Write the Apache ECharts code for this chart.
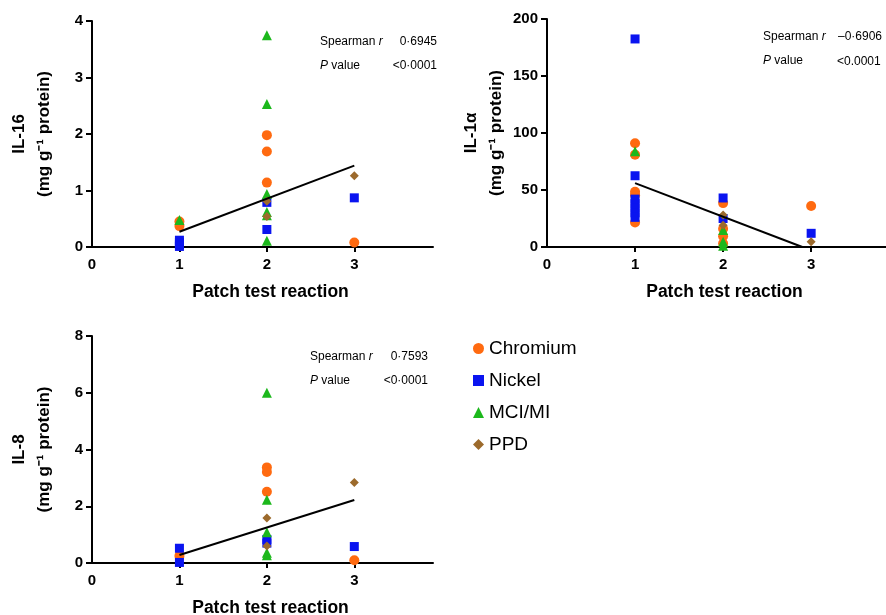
<!DOCTYPE html>
<html>
<head>
<meta charset="utf-8">
<script src="https://cdn.jsdelivr.net/npm/echarts@6/dist/echarts.min.js"></script>
<style>
  html, body { margin: 0; padding: 0; background: #fff; }
  #chart { width: 886px; height: 615px; }
</style>
</head>
<body>
<div id="chart"></div>
<script>
// points are [patch test reaction, concentration]
const il16Chromium = [[1, 0.45], [1, 0.37], [2, 1.98], [2, 1.69], [2, 1.14], [3, 0.08]];
const il16Nickel = [[1, 0.12], [1, 0.08], [1, 0.04], [1, 0.01], [2, 0.79], [2, 0.31], [3, 0.87]];
const il16Mci = [[1, 0.48], [2, 3.75], [2, 2.53], [2, 0.94], [2, 0.62], [2, 0.56], [2, 0.11]];
const il16Ppd = [[2, 0.81], [2, 0.54], [3, 1.26]];
const il16Fit = [[1, 0.27], [3, 1.44]];

const il1aChromium = [[1, 91], [1, 81], [1, 48.5], [1, 45.5], [1, 21.5], [2, 38.5], [2, 16], [2, 9.5], [2, 3], [3, 36]];
const il1aNickel = [[1, 182.5], [1, 62.5], [1, 42], [1, 38], [1, 34], [1, 30], [1, 26], [2, 43], [2, 25], [3, 12]];
const il1aMci = [[1, 84], [2, 15], [2, 4.5], [2, 1]];
const il1aPpd = [[2, 28], [2, 19], [3, 4.5]];
const il1aFit = [[1, 56], [2.9, 0]];

const il8Chromium = [[1, 0.25], [2, 3.37], [2, 3.21], [2, 2.51], [3, 0.1]];
const il8Nickel = [[1, 0.52], [1, 0.02], [2, 0.83], [2, 0.7], [3, 0.58]];
const il8Mci = [[2, 6.0], [2, 2.23], [2, 1.08], [2, 0.36], [2, 0.27]];
const il8Ppd = [[2, 1.59], [2, 0.6], [3, 2.84]];
const il8Fit = [[1, 0.28], [3, 2.22]];

const groups = ['Chromium', 'Nickel', 'MCI/MI', 'PPD'];
const xTicks = [0, 1, 2, 3];
const stats = [
  { r: '0·6945', p: '<0·0001' },
  { r: '–0·6906', p: '<0.0001' },
  { r: '0·7593', p: '<0·0001' }
];

const FONT = 'Arial, "Liberation Sans", Helvetica, sans-serif';
const colors = ['#ff6a10', '#0a14f0', '#1cb81c', '#9c6a2c'];
const symbols = ['circle', 'rect', 'triangle', 'diamond'];
const sizes = [10, 9, 10, 9];

function makeGrid(left, top, width, height) {
  return { left: left, top: top, width: width, height: height, containLabel: false, outerBoundsMode: 'none' };
}

function makeX(gridIndex, max) {
  return {
    type: 'value', gridIndex: gridIndex, min: 0, max: max, interval: 1,
    name: 'Patch test reaction', nameLocation: 'middle', nameGap: 36,
    nameTextStyle: { fontFamily: FONT, fontSize: 17.5, fontWeight: 'bold', color: '#000', padding: [0, 0, 0, 16] },
    axisLine: { onZero: false, lineStyle: { color: '#000', width: 2 } },
    axisTick: { show: true, length: 5, customValues: [1, 2, 3], lineStyle: { color: '#000', width: 2 } },
    axisLabel: { customValues: xTicks, margin: 10, fontFamily: FONT, fontSize: 15, fontWeight: 'bold', color: '#000' },
    splitLine: { show: false }
  };
}

function makeY(gridIndex, max, interval, title) {
  return {
    type: 'value', gridIndex: gridIndex, min: 0, max: max, interval: interval,
    name: title + '\n(mg g⁻¹ protein)', nameLocation: 'middle', nameRotate: 90, nameGap: 35,
    nameTextStyle: { fontFamily: FONT, fontSize: 17, fontWeight: 'bold', color: '#000', lineHeight: 25 },
    axisLine: { show: true, lineStyle: { color: '#000', width: 2 } },
    axisTick: { show: true, length: 6, lineStyle: { color: '#000', width: 2 } },
    axisLabel: { margin: 9, fontFamily: FONT, fontSize: 15, fontWeight: 'bold', color: '#000' },
    splitLine: { show: false }
  };
}

function scatterSeries(gi, data, k) {
  return {
    name: groups[k], type: 'scatter', xAxisIndex: gi, yAxisIndex: gi,
    symbol: symbols[k], symbolSize: sizes[k], data: data,
    itemStyle: { color: colors[k], opacity: 1 }
  };
}

function fitSeries(gi, data) {
  return {
    name: 'fit', type: 'line', xAxisIndex: gi, yAxisIndex: gi, data: data,
    symbol: 'none', silent: true, lineStyle: { color: '#000', width: 2 }, z: 3
  };
}

function statText(x, y) {
  const rich = {
    n: { fontFamily: FONT, fontSize: 12, fill: '#000' },
    i: { fontFamily: FONT, fontSize: 12, fontStyle: 'italic', fill: '#000' }
  };
  return [
    { type: 'text', left: x, top: y, style: { text: '{n|Spearman }{i|r}', rich: rich } },
    { type: 'text', left: x, top: y + 24, style: { text: '{i|P}{n| value}', rich: rich } }
  ];
}

function valueText(xr, y, str) {
  return { type: 'text', right: 886 - xr, top: y, style: { text: str, fontFamily: FONT, fontSize: 12, fill: '#000' } };
}

const chart = echarts.init(document.getElementById('chart'));
const option = {
  backgroundColor: '#fff',
  animation: false,
  grid: [
    makeGrid(92, 21, 341, 226),
    makeGrid(547, 19, 339, 228),
    makeGrid(92, 336, 341, 227)
  ],
  xAxis: [makeX(0, 3.9), makeX(1, 3.85), makeX(2, 3.9)],
  yAxis: [makeY(0, 4, 1, 'IL-16'), makeY(1, 200, 50, 'IL-1α'), makeY(2, 8, 2, 'IL-8')],
  legend: {
    data: groups, orient: 'vertical', left: 468, top: 334, selectedMode: false,
    itemWidth: 11, itemHeight: 11, itemGap: 13,
    textStyle: { fontFamily: FONT, fontSize: 19, color: '#000' }
  },
  graphic: [].concat(
    statText(320, 36),
    [valueText(437, 36, stats[0].r), valueText(437, 60, stats[0].p)],
    statText(763, 31),
    [{ type: 'text', left: 838, top: 31, style: { text: stats[1].r, fontFamily: FONT, fontSize: 12, fill: '#000' } },
     { type: 'text', left: 837, top: 56, style: { text: stats[1].p, fontFamily: FONT, fontSize: 12, fill: '#000' } }],
    statText(310, 351),
    [valueText(428, 351, stats[2].r), valueText(428, 375, stats[2].p)]
  ),
  series: [
    scatterSeries(0, il16Chromium, 0), scatterSeries(0, il16Nickel, 1), scatterSeries(0, il16Mci, 2), scatterSeries(0, il16Ppd, 3),
    fitSeries(0, il16Fit),
    scatterSeries(1, il1aChromium, 0), scatterSeries(1, il1aNickel, 1), scatterSeries(1, il1aMci, 2), scatterSeries(1, il1aPpd, 3),
    fitSeries(1, il1aFit),
    scatterSeries(2, il8Chromium, 0), scatterSeries(2, il8Nickel, 1), scatterSeries(2, il8Mci, 2), scatterSeries(2, il8Ppd, 3),
    fitSeries(2, il8Fit)
  ]
};
chart.setOption(option);
</script>
</body>
</html>
